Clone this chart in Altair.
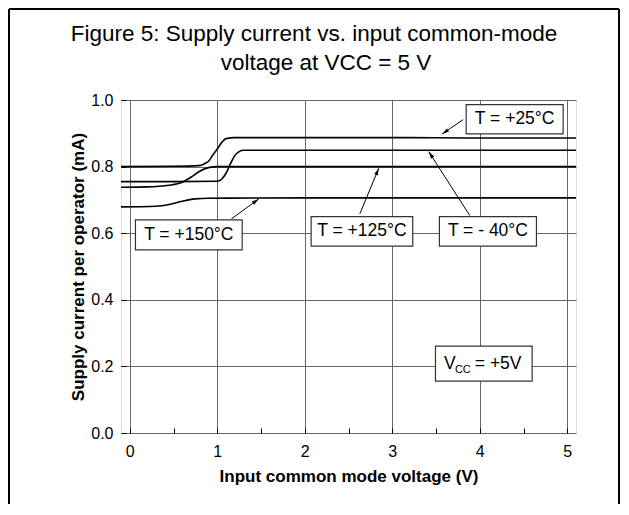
import math
import altair as alt
import pandas as pd

# ---------------- data ----------------
x_25 = [-0.1, 0.5, 0.79, 0.85, 0.9, 0.95, 1.0, 1.05, 1.1, 1.2, 2.0, 3.0, 4.0, 5.1]
y_25 = [0.800, 0.801, 0.803, 0.808, 0.816, 0.835, 0.853, 0.872, 0.884, 0.887, 0.887, 0.887, 0.886, 0.886]

x_m40 = [-0.1, 0.5, 1.0, 1.05, 1.1, 1.15, 1.2, 1.25, 1.3, 2.0, 3.0, 5.1]
y_m40 = [0.755, 0.755, 0.756, 0.762, 0.780, 0.808, 0.833, 0.845, 0.849, 0.849, 0.849, 0.849]

x_125 = [-0.1, 0.2, 0.45, 0.6, 0.7, 0.8, 0.9, 1.0, 2.0, 5.1]
y_125 = [0.738, 0.739, 0.744, 0.753, 0.768, 0.786, 0.797, 0.800, 0.800, 0.800]

x_150 = [-0.1, 0.3, 0.45, 0.6, 0.75, 0.9, 2.0, 5.1]
y_150 = [0.679, 0.681, 0.686, 0.696, 0.703, 0.705, 0.706, 0.706]

# annotation boxes and arrows (data coordinates)
ann_text = ["T = +25°C", "T = +125°C", "T = - 40°C", "T = +150°C"]
box_x1 = [3.845, 2.073, 3.539, 0.065]
box_x2 = [4.953, 3.234, 4.648, 1.285]
box_y1 = [0.898, 0.561, 0.561, 0.550]
box_y2 = [0.986, 0.650, 0.650, 0.640]
arr_x1 = [3.810, 2.629, 3.886, 1.162]
arr_y1 = [0.941, 0.658, 0.653, 0.643]
arr_x2 = [3.570, 2.846, 3.417, 1.474]
arr_y2 = [0.898, 0.795, 0.845, 0.703]

vcc_box_x = [3.494, 4.599]
vcc_box_y = [0.156, 0.261]

x_ticks = [0, 0.5, 1, 1.5, 2, 2.5, 3, 3.5, 4, 4.5, 5]
y_ticks = [0.0, 0.1, 0.2, 0.3, 0.4, 0.5, 0.6, 0.7, 0.8, 0.9, 1.0]
x_dom = [-0.1, 5.1]
y_dom = [0.0, 1.0]

title_lines = ["Figure 5: Supply current vs. input common-mode", "voltage at VCC = 5 V"]

# ---------------- layout ----------------
W, H = 455, 333
PL, PT = 113, 92
CW, CH = 612, 496
PR = CW - PL - W
PB = CH - PT - H
FONT = "Liberation Sans"

curves = pd.concat([
    pd.DataFrame({"x": x_25, "y": y_25, "s": "+25"}),
    pd.DataFrame({"x": x_m40, "y": y_m40, "s": "-40"}),
    pd.DataFrame({"x": x_125, "y": y_125, "s": "+125"}),
    pd.DataFrame({"x": x_150, "y": y_150, "s": "+150"}),
])

kx = W / (x_dom[1] - x_dom[0])
ky = H / (y_dom[1] - y_dom[0])
angles = []
for a, b, c, d in zip(arr_x1, arr_y1, arr_x2, arr_y2):
    dx = (c - a) * kx
    dy = -(d - b) * ky
    angles.append(math.degrees(math.atan2(dx, -dy)) % 360)

ann = pd.DataFrame({
    "t": ann_text, "bx1": box_x1, "bx2": box_x2, "by1": box_y1, "by2": box_y2,
    "ax1": arr_x1, "ay1": arr_y1, "ax2": arr_x2, "ay2": arr_y2, "ang": angles,
})
ann["cx"] = (ann.bx1 + ann.bx2) / 2
ann["cy"] = (ann.by1 + ann.by2) / 2

vcc = pd.DataFrame({"bx1": [vcc_box_x[0]], "bx2": [vcc_box_x[1]],
                    "by1": [vcc_box_y[0]], "by2": [vcc_box_y[1]]})
vcc["cx"] = (vcc.bx1 + vcc.bx2) / 2
vcc["cy"] = (vcc.by1 + vcc.by2) / 2

xs = alt.Scale(domain=x_dom, nice=False, zero=False)
ys = alt.Scale(domain=y_dom, nice=False, zero=False)

x_axis = alt.Axis(
    values=x_ticks, title="Input common mode voltage (V)", offset=-5, tickSize=5,
    domain=False, tickColor="black", tickWidth=1,
    labelExpr="round(datum.value*2) % 2 == 0 ? format(datum.value, 'd') : ''",
    labelFont=FONT, labelFontSize=16, labelColor="black", labelPadding=10,
    labelFlush=False, labelOverlap=False,
    titleFont=FONT, titleFontSize=17, titleFontWeight="bold", titleColor="black",
    titlePadding=9,
    grid=True, gridColor="#666666", gridWidth=1,
    gridOpacity={"condition": {"test": "round(datum.value*2) % 2 == 0", "value": 1}, "value": 0},
)
y_axis = alt.Axis(
    values=y_ticks, title="Supply current per operator (mA)", offset=-5, tickSize=5,
    domain=False, tickColor="black", tickWidth=1,
    labelExpr="round(datum.value*10) % 2 == 0 ? format(datum.value, '.1f') : ''",
    labelFont=FONT, labelFontSize=16, labelColor="black", labelPadding=8,
    labelFlush=False, labelOverlap=False,
    titleFont=FONT, titleFontSize=17, titleFontWeight="bold", titleColor="black",
    titlePadding=3,
    grid=True, gridColor="#666666", gridWidth=1,
    gridOpacity={"condition": {"test": "round(datum.value*10) % 2 == 0", "value": 1}, "value": 0},
)

lines = alt.Chart(curves).mark_line(color="black", strokeWidth=1.6, interpolate="monotone").encode(
    x=alt.X("x:Q", scale=xs, axis=x_axis),
    y=alt.Y("y:Q", scale=ys, axis=y_axis),
    detail="s:N",
)

arrows = alt.Chart(ann).mark_rule(color="black", strokeWidth=1).encode(
    x="ax1:Q", y="ay1:Q", x2="ax2:Q", y2="ay2:Q")
heads = alt.Chart(ann).mark_point(
    shape="M0,0L0.4,1.5L-0.4,1.5Z", filled=True, color="black", opacity=1, size=90
).encode(x="ax2:Q", y="ay2:Q", angle=alt.Angle("ang:Q", scale=None))

boxes = alt.Chart(ann).mark_rect(fill="white", stroke="#333333", strokeWidth=1.2).encode(
    x="bx1:Q", x2="bx2:Q", y="by1:Q", y2="by2:Q")
texts = alt.Chart(ann).mark_text(font=FONT, fontSize=17.5, color="black", baseline="middle").encode(
    x="cx:Q", y="cy:Q", text="t:N")

vbox = alt.Chart(vcc).mark_rect(fill="white", stroke="#333333", strokeWidth=1.2).encode(
    x="bx1:Q", x2="bx2:Q", y="by1:Q", y2="by2:Q")
v1 = alt.Chart(vcc).mark_text(font=FONT, fontSize=17.5, color="black", baseline="middle",
                              align="center", dx=-34).encode(x="cx:Q", y="cy:Q", text=alt.value("V"))
v2 = alt.Chart(vcc).mark_text(font=FONT, fontSize=11, color="black", baseline="middle",
                              align="center", dx=-21, dy=6).encode(x="cx:Q", y="cy:Q", text=alt.value("CC"))
v3 = alt.Chart(vcc).mark_text(font=FONT, fontSize=17.5, color="black", baseline="middle",
                              align="left", dx=-9).encode(x="cx:Q", y="cy:Q", text=alt.value("= +5V"))

# figure title (two centred lines above the plot)
t1 = alt.Chart(vcc).mark_text(font=FONT, fontSize=22.5, color="black", align="center",
                              baseline="alphabetic").encode(
    x=alt.value(193), y=alt.value(-59), text=alt.value(title_lines[0]))
t2 = alt.Chart(vcc).mark_text(font=FONT, fontSize=22.5, color="black", align="center",
                              baseline="alphabetic").encode(
    x=alt.value(205), y=alt.value(-30), text=alt.value(title_lines[1]))

# outer figure frame (left, top, right sides)
frame_l = alt.Chart(vcc).mark_rule(color="black", strokeWidth=2).encode(
    x=alt.value(-PL + 1), y=alt.value(-PT + 1), y2=alt.value(H + PB))
frame_t = alt.Chart(vcc).mark_rule(color="black", strokeWidth=2).encode(
    x=alt.value(-PL + 1), x2=alt.value(W + PR - 1), y=alt.value(-PT + 1))
frame_r = alt.Chart(vcc).mark_rule(color="black", strokeWidth=2).encode(
    x=alt.value(W + PR - 1), y=alt.value(-PT + 1), y2=alt.value(H + PB))

chart = alt.layer(
    lines, arrows, heads, boxes, texts, vbox, v1, v2, v3, t1, t2, frame_l, frame_t, frame_r
).properties(
    width=W, height=H,
    autosize=alt.AutoSizeParams(type="none"),
    padding={"left": PL, "top": PT, "right": PR, "bottom": PB},
).configure_view(stroke="black", strokeWidth=1.3).configure(background="white")

chart.save("out.html", embed_options={"renderer": "svg", "actions": False})
